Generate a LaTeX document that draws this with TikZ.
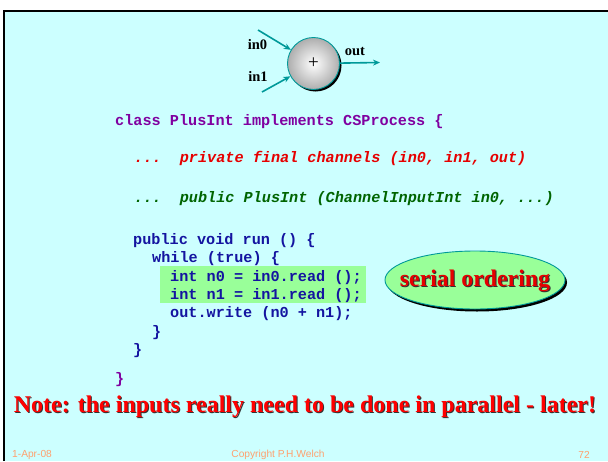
\documentclass[tikz,border=0pt]{standalone}
\usepackage{fontspec}
\setmainfont{Liberation Serif}
\newfontfamily\codefont{Liberation Mono}
\newfontfamily\footfont{Liberation Sans}
\usetikzlibrary{shapes.geometric,shadows,arrows.meta,calc}

\definecolor{slidebg}{RGB}{204,255,255}
\definecolor{teal}{RGB}{0,153,153}
\definecolor{hilite}{RGB}{153,255,153}
\definecolor{codepurple}{RGB}{128,0,160}
\definecolor{codered}{RGB}{230,0,0}
\definecolor{codegreen}{RGB}{0,100,0}
\definecolor{codeblue}{RGB}{20,20,160}
\definecolor{footcol}{RGB}{255,160,110}

\tikzset{
  code/.style={anchor=base west, inner sep=0pt, font=\codefont\fontsize{15.2}{18}\selectfont\bfseries},
  chan/.style={teal, line width=1.6pt, -{Stealth[length=7pt,width=6pt]}},
  chanlabel/.style={inner sep=0pt, font=\fontsize{14.5}{16}\selectfont\bfseries},
  foot/.style={inner sep=0pt, text=footcol, font=\footfont\fontsize{10.2}{11}\selectfont},
}

% text drawn twice: a dark copy offset down-right, then the coloured copy
\newcommand{\shadowtext}[4]{%
  \node[#1, text=black!80] at ($(#2)+(1,1)$) {#4};
  \node[#1] (#3) at (#2) {#4};
}

\begin{document}
\begin{tikzpicture}[x=1pt,y=-1pt]
  \useasboundingbox (0,0) rectangle (608,461);
  % slide background and frame
  \fill[white] (0,0) rectangle (608,461);
  \fill[slidebg] (4,11) rectangle (608,461);
  \draw[black, line width=2pt] (4,461) -- (4,11) -- (608,11);

  % the PlusInt process symbol
  \fill[black] (315.5,65.5) circle (26);
  \node[circle, minimum size=52pt, inner sep=0pt, draw=teal, line width=0.9pt,
        shade, inner color=white, outer color=black!32] (plus) at (313.5,63.5)
        {\fontsize{19}{20}\selectfont +};
  \coordinate (in0start) at (258,30);
  \coordinate (in1start) at (262,92);
  \coordinate (outend) at (380,62.5);
  \draw[chan] (in0start) -- (plus);
  \draw[chan] (in1start) -- (plus);
  \draw[chan] (plus) -- (outend);
  \node[chanlabel] (lin0) at (257.5,45) {in0};
  \node[chanlabel] (lin1) at (258,76) {in1};
  \node[chanlabel] (lout) at (355,52) {out};

  % class code
  \node[code, text=codepurple] (c1) at (115,125) {class PlusInt implements CSProcess \{};
  \node[code, text=codered] (c2) at (134,162) {\itshape ...\ \ private final channels (in0, in1, out)};
  \node[code, text=codegreen] (c3) at (134,202) {\itshape ...\ \ public PlusInt (ChannelInputInt in0, ...)};

  \fill[hilite] (160,266) rectangle (366,303);
  \node[code, text=codeblue] (r1) at (133,244) {public void run () \{};
  \node[code, text=codeblue] (r2) at (152,262) {while (true) \{};
  \node[code, text=codeblue] (r3) at (170,281) {int n0 = in0.read ();};
  \node[code, text=codeblue] (r4) at (170,299) {int n1 = in1.read ();};
  \node[code, text=codeblue] (r5) at (170,317) {out.write (n0 + n1);};
  \node[code, text=codeblue] (r6) at (152,336) {\}};
  \node[code, text=codeblue] (r7) at (133,354) {\}};
  \node[code, text=codepurple] (c4) at (115,383) {\}};

  % callout
  \node[ellipse, minimum width=180pt, minimum height=58pt, fill=hilite, draw=teal,
        line width=0.9pt,
        drop shadow={shadow xshift=2pt, shadow yshift=-2.5pt, fill=black, opacity=1}]
        (serial) at (475,280) {};
  \shadowtext{inner sep=0pt, text=codered, font=\fontsize{23.8}{26}\selectfont\bfseries}{475,281}{serialtext}{serial ordering}

  % closing remark
  \shadowtext{inner sep=0pt, text=red, font=\fontsize{24}{28}\selectfont\bfseries}{305,407}{note}{Note: the inputs really need to be done in parallel - later!}

  % footer
  \node[foot, anchor=west] (date) at (12,455) {1-Apr-08};
  \node[foot] (copy) at (278,455) {Copyright P.H.Welch};
  \node[foot, anchor=east] (page) at (590,455) {72};
\end{tikzpicture}
\end{document}
